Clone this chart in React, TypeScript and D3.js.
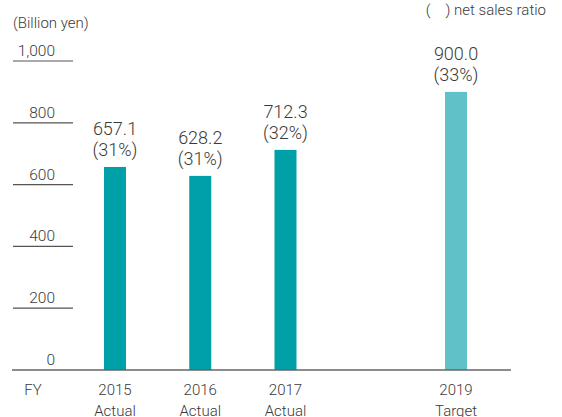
import React from 'react';
import * as d3 from 'd3';

const years = [2015, 2016, 2017, 2019];
const values = [657.1, 628.2, 712.3, 900.0];
const ratios = ['31%', '31%', '32%', '33%'];
const kinds = ['Actual', 'Actual', 'Actual', 'Target'];
const yTicks = [0, 200, 400, 600, 800, 1000];

const W = 562;
const H = 417;
const font = 'Roboto, "Liberation Sans", sans-serif';
const ink = '#3a3a3a';

const App = () => {
  const x = d3.scaleLinear().domain([2015, 2019]).range([115, 456]);
  const y = d3.scaleLinear().domain([0, 1000]).range([370, 61]);
  const barW = 22;
  const fmtTick = d3.format(',');

  return (
    <svg
      width={W}
      height={H}
      style={{ position: 'absolute', left: 0, top: 0, background: '#fff' }}
      fontFamily={font}
      fontWeight={300}
      fill={ink}
    >
      <text x={13} y={28} fontSize={15}>(Billion yen)</text>
      <text x={546} y={15} fontSize={15} textAnchor="end">(　) net sales ratio</text>

      {yTicks.map(t => (
        <g key={t}>
          {t > 0 && <line x1={13} x2={73} y1={y(t)} y2={y(t)} stroke="#555" strokeWidth={1.2} />}
          <text x={55} y={y(t) - 5} fontSize={15.5} textAnchor="end">{fmtTick(t)}</text>
        </g>
      ))}

      {years.map((yr, i) => (
        <g key={yr}>
          <rect
            x={x(yr) - barW / 2}
            y={y(values[i])}
            width={barW}
            height={y(0) - y(values[i])}
            fill={kinds[i] === 'Target' ? '#60c2c9' : '#00a0a8'}
          />
          <text x={x(yr)} y={y(values[i]) - 32} fontSize={18} textAnchor="middle">
            {values[i].toFixed(1)}
          </text>
          <text x={x(yr)} y={y(values[i]) - 11} fontSize={18} textAnchor="middle">
            ({ratios[i]})
          </text>
          <text x={x(yr)} y={395} fontSize={15} textAnchor="middle">{yr}</text>
          <text x={x(yr)} y={416} fontSize={15} textAnchor="middle">{kinds[i]}</text>
        </g>
      ))}

      <line x1={12} x2={511} y1={y(0)} y2={y(0)} stroke="#666" strokeWidth={1.5} />
      <text x={33} y={395} fontSize={15} textAnchor="middle">FY</text>
    </svg>
  );
};

export default App;
